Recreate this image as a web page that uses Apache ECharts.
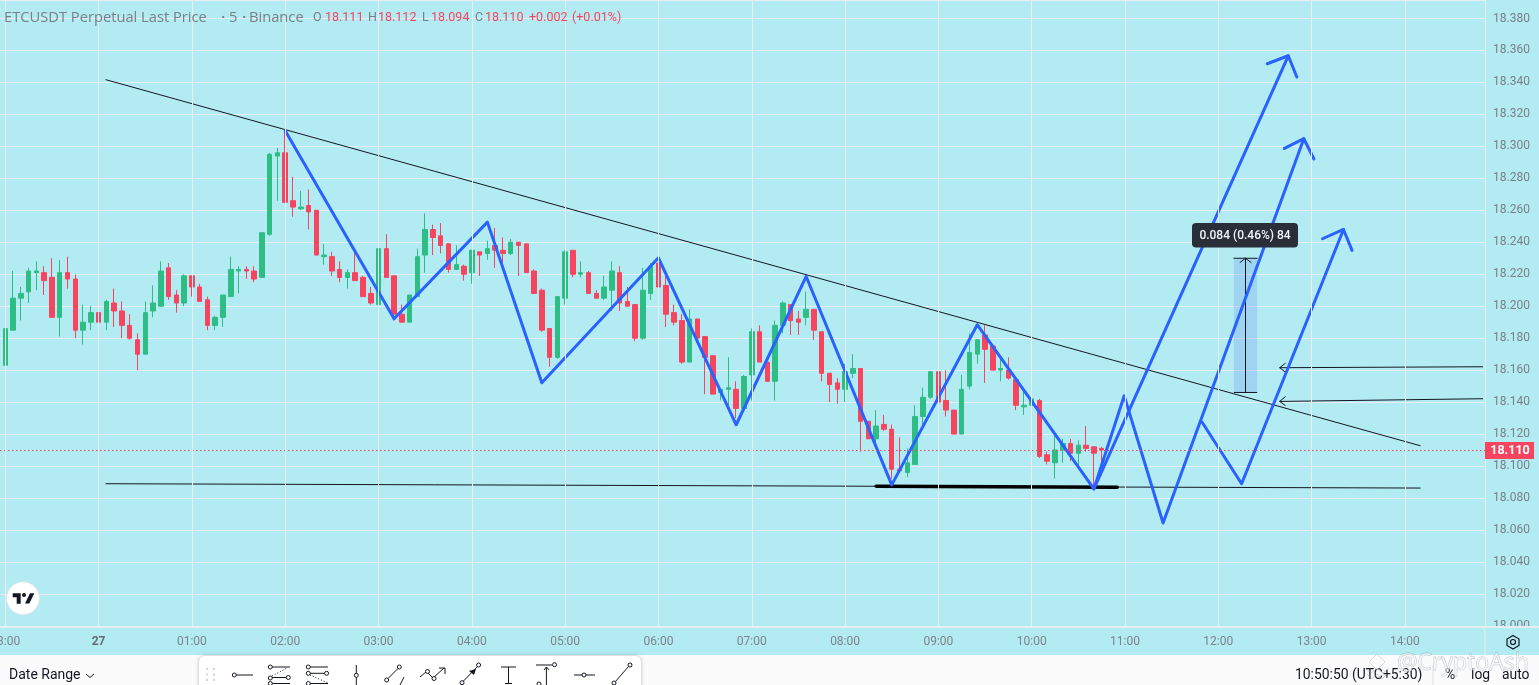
<!DOCTYPE html>
<html><head><meta charset="utf-8">
<style>html,body{margin:0;padding:0;background:#b2ebf2;overflow:hidden}#c{width:1539px;height:685px}</style>
<script src="https://cdn.jsdelivr.net/npm/echarts@6/dist/echarts.min.js"></script>
</head><body><div id="c"></div>
<script>
const timeLabels=['23:00','27','01:00','02:00','03:00','04:00','05:00','06:00','07:00','08:00','09:00','10:00','11:00','12:00','13:00','14:00'];
const lastPrice=18.110;
const opens=[18.163,18.185,18.205,18.209,18.221,18.221,18.218,18.193,18.221,18.217,
18.185,18.190,18.196,18.190,18.202,18.197,18.188,18.179,18.170,18.197,
18.200,18.224,18.207,18.202,18.219,18.212,18.204,18.188,18.193,18.206,
18.222,18.223,18.222,18.218,18.245,18.294,18.296,18.266,18.261,18.263,
18.260,18.231,18.231,18.223,18.218,18.221,18.218,18.208,18.201,18.236,
18.219,18.195,18.190,18.206,18.232,18.248,18.244,18.239,18.223,18.225,
18.221,18.234,18.233,18.238,18.235,18.233,18.240,18.239,18.222,18.210,
18.186,18.168,18.205,18.235,18.220,18.221,18.208,18.205,18.210,18.221,
18.203,18.201,18.180,18.208,18.227,18.213,18.196,18.191,18.165,18.192,
18.181,18.169,18.146,18.148,18.148,18.136,18.157,18.184,18.165,18.153,
18.188,18.201,18.192,18.193,18.198,18.184,18.158,18.152,18.148,18.158,
18.161,18.128,18.117,18.126,18.123,18.098,18.096,18.101,18.131,18.143,
18.159,18.141,18.135,18.120,18.150,18.170,18.182,18.175,18.160,18.160,
18.154,18.137,18.138,18.141,18.107,18.102,18.110,18.114,18.108,18.113,
18.112,18.111];
const closes=[18.186,18.205,18.208,18.222,18.222,18.216,18.193,18.221,18.217,18.185,
18.190,18.196,18.190,18.203,18.197,18.188,18.180,18.170,18.196,18.202,
18.222,18.206,18.202,18.219,18.212,18.203,18.188,18.193,18.207,18.223,
18.223,18.222,18.217,18.246,18.295,18.296,18.265,18.262,18.262,18.259,
18.232,18.232,18.222,18.218,18.221,18.216,18.206,18.202,18.236,18.218,
18.195,18.190,18.207,18.231,18.248,18.243,18.238,18.223,18.226,18.220,
18.235,18.232,18.236,18.235,18.233,18.240,18.238,18.221,18.208,18.185,
18.168,18.206,18.234,18.220,18.221,18.208,18.205,18.212,18.222,18.202,
18.200,18.180,18.210,18.225,18.212,18.195,18.190,18.165,18.192,18.180,
18.168,18.145,18.148,18.149,18.136,18.156,18.184,18.165,18.153,18.188,
18.202,18.191,18.190,18.198,18.185,18.158,18.151,18.148,18.159,18.161,
18.128,18.117,18.125,18.123,18.098,18.097,18.102,18.131,18.143,18.159,
18.140,18.135,18.120,18.148,18.171,18.179,18.173,18.160,18.161,18.155,
18.138,18.138,18.142,18.106,18.103,18.110,18.114,18.108,18.113,18.111,
18.108,18.110];
const highs=[18.187,18.222,18.212,18.224,18.228,18.225,18.230,18.229,18.231,18.220,
18.201,18.200,18.201,18.204,18.211,18.203,18.195,18.183,18.203,18.213,
18.228,18.227,18.210,18.220,18.219,18.214,18.206,18.194,18.207,18.231,
18.225,18.225,18.225,18.246,18.296,18.299,18.309,18.281,18.272,18.273,
18.260,18.239,18.234,18.228,18.223,18.234,18.219,18.212,18.236,18.245,
18.219,18.201,18.207,18.236,18.258,18.251,18.252,18.239,18.238,18.226,
18.235,18.234,18.241,18.249,18.243,18.242,18.240,18.239,18.223,18.211,
18.186,18.206,18.235,18.235,18.228,18.222,18.210,18.219,18.228,18.225,
18.212,18.201,18.224,18.227,18.229,18.219,18.201,18.195,18.198,18.192,
18.181,18.169,18.148,18.168,18.153,18.157,18.186,18.188,18.165,18.191,
18.203,18.201,18.197,18.209,18.198,18.184,18.158,18.155,18.164,18.170,
18.161,18.128,18.135,18.132,18.126,18.118,18.111,18.138,18.149,18.159,
18.165,18.160,18.135,18.157,18.183,18.179,18.188,18.175,18.167,18.168,
18.156,18.148,18.142,18.142,18.109,18.121,18.117,18.117,18.116,18.125,
18.112,18.112];
const lows=[18.163,18.185,18.191,18.202,18.210,18.207,18.193,18.181,18.211,18.180,
18.176,18.185,18.177,18.185,18.187,18.180,18.179,18.160,18.170,18.193,
18.200,18.204,18.196,18.200,18.206,18.203,18.185,18.185,18.187,18.206,
18.208,18.217,18.215,18.218,18.244,18.266,18.265,18.256,18.260,18.248,
18.232,18.226,18.219,18.215,18.211,18.216,18.206,18.201,18.201,18.218,
18.191,18.190,18.190,18.206,18.221,18.232,18.233,18.221,18.223,18.216,
18.214,18.219,18.229,18.224,18.227,18.232,18.219,18.221,18.208,18.184,
18.162,18.167,18.201,18.218,18.218,18.208,18.205,18.204,18.197,18.197,
18.200,18.178,18.179,18.204,18.210,18.187,18.188,18.164,18.165,18.180,
18.145,18.145,18.141,18.137,18.130,18.136,18.141,18.165,18.153,18.141,
18.183,18.182,18.182,18.188,18.179,18.153,18.140,18.139,18.140,18.155,
18.109,18.117,18.112,18.122,18.092,18.096,18.093,18.101,18.126,18.142,
18.134,18.131,18.120,18.120,18.148,18.164,18.152,18.160,18.153,18.154,
18.135,18.132,18.124,18.105,18.101,18.092,18.102,18.103,18.100,18.109,
18.087,18.094];
// drawings in chart coordinates: [bar index, price]
const zigzag=[[36,18.3098],[50,18.1921],[62,18.2526],[69,18.1521],[84,18.2303],[94,18.1258],[103,18.2186],[114,18.0882],[125,18.1884],[140,18.0857],[143.9,18.1439],[148.9,18.0643],[167,18.3048]];
const directUp=[[140,18.0857],[165,18.3567]];
const branch=[[153.9,18.1275],[159,18.0889],[172.1,18.2480]];
const head1=[[162.3,18.3517],[165,18.3567],[166.1,18.3434]];
const head2=[[164.5,18.2987],[167,18.3048],[168.3,18.2921]];
const head3=[[169.4,18.2422],[172.1,18.2480],[173.2,18.2349]];
const trendTop=[[12.95,18.3417],[181.96,18.1127]];
const trendBase=[[12.95,18.0889],[181.96,18.0862]];
const supportThick=[[112,18.0874],[143,18.0867]];
const arrowA=[[190,18.1621],[163.9,18.1615]];
const arrowAHead=[[164.6,18.1642],[163.9,18.1615],[164.6,18.1588]];
const arrowB=[[190,18.1421],[163.9,18.1404]];
const arrowBHead=[[164.6,18.1433],[163.9,18.1404],[164.6,18.1379]];
const measureTop=[[158,18.230],[161,18.230]];
const measureBottom=[[158,18.146],[161,18.146]];
const measureStem=[[159.5,18.146],[159.5,18.230]];
const measureHead=[[158.8,18.2274],[159.5,18.230],[160.2,18.2274]];

const RED='#f7455f',GREEN='#2ebd85',BLUE='#2962ff',INK='#131722',GRID='#e6eef1',BG='#b2ebf2',AX='#7b7f89';
const bars=opens.map((o,i)=>[i,o,closes[i],lows[i],highs[i]]);
const poly=(data,color,width,z)=>({type:'line',data,symbol:'none',silent:true,z:z||3,lineStyle:{color,width,cap:'round',join:'round'},animation:false});

const Z=100;
const txt=(x,y,text,size,fill,extra)=>({type:'text',z:Z,x,y,style:Object.assign({text,fill,fontSize:size,fontFamily:'Roboto',verticalAlign:'middle'},extra||{})});
const ln=(x1,y1,x2,y2,w,c,d)=>({type:'line',z:Z,shape:{x1,y1,x2,y2},style:{stroke:c||INK,lineWidth:w||1,lineDash:d||null}});
const dot=(cx,cy,r)=>({type:'circle',z:Z,shape:{cx,cy,r:r||2},style:{fill:'#fff',stroke:INK,lineWidth:1}});
const rect=(x,y,width,height,fill,z,r)=>({type:'rect',z:z==null?Z:z,shape:{x,y,width,height,r:r||0},style:{fill}});
const pl=(points,w,c,d)=>({type:'polyline',z:Z,shape:{points},style:{stroke:c||INK,lineWidth:w||1,fill:null,lineDash:d||null}});

const OS={fontFamily:'Open Sans'};
const header=[
 txt(4,18,'ETCUSDT Perpetual Last Price',14.7,AX,OS),
 txt(221,18,'·',14.7,AX,{fontWeight:'bold'}),txt(229,18,'5',14.7,AX,OS),txt(242,18,'·',14.7,AX,{fontWeight:'bold'}),txt(249,18,'Binance',14.7,AX,OS),
 txt(313,18,'O',12.5,AX),txt(325,18,'18.111',12.5,RED),
 txt(368,18,'H',12.5,AX),txt(378,18,'18.112',12.5,RED),
 txt(422,18,'L',12.5,AX),txt(431,18,'18.094',12.5,RED),
 txt(475,18,'C',12.5,AX),txt(485,18,'18.110',12.5,RED),
 txt(529,18,'+0.002',12.5,RED),txt(572,18,'(+0.01%)',12.5,RED)
];
const tvLogo=[
 {type:'circle',z:Z,shape:{cx:23,cy:598.3,r:16.5},style:{fill:'#fff',stroke:'#dde3ee',lineWidth:1}},
 {type:'polygon',z:Z+1,shape:{points:[[12.7,593.3],[20.7,593.3],[20.7,603.7],[16.7,603.7],[16.7,597.3],[12.7,597.3]]},style:{fill:INK}},
 {type:'circle',z:Z+1,shape:{cx:24,cy:595,r:2},style:{fill:INK}},
 {type:'polygon',z:Z+1,shape:{points:[[30,593.3],[34.3,593.3],[29.3,603.5],[25,603.5]]},style:{fill:INK}}
];
const tooltipBox=[
 rect(1192,223,106,24.6,'#2a2e39',Z+2,4),
 {type:'text',z:Z+3,x:1245,y:235.5,style:{text:'0.084 (0.46%) 84',fill:'#f0f3fa',fontSize:12,fontWeight:500,fontFamily:'Roboto',align:'center',verticalAlign:'middle'}}
];
const priceTag=[
 rect(1485,442,49,17,RED,Z+2),
 {type:'text',z:Z+3,x:1510,y:451,style:{text:lastPrice.toFixed(3),fill:'#fff',fontSize:12.5,fontWeight:'bold',fontFamily:'Roboto',align:'center',verticalAlign:'middle'}}
];
const chrome=[
 rect(0,627,1539,28,BG,50),
 ln(0,627,1539,627,2,GRID),
 ln(1485,627,1485,655,1,GRID),
 rect(0,655,1539,30,'#fbfbfb',80),
 {type:'rect',z:81,shape:{x:199,y:656,width:442,height:40,r:6},style:{fill:'#fff',shadowBlur:4,shadowColor:'rgba(0,0,0,.25)'}},
 {type:'polygon',z:Z,shape:{points:[[1513,635.5],[1519,639],[1519,645.5],[1513,649],[1507,645.5],[1507,639]]},style:{fill:null,stroke:INK,lineWidth:1.2}},
 {type:'circle',z:Z,shape:{cx:1513,cy:642,r:2.5},style:{fill:null,stroke:INK,lineWidth:1.2}},
 txt(9,675.5,'Date Range',14,INK),
 pl([[86,674],[90,677.5],[94,674]],1,INK),
 txt(1295,675.5,'10:50:50 (UTC+5:30)',13.9,INK),
 ln(1433,665,1433,685,1,'#e0e3eb'),
 txt(1445,675.5,'%',13.9,INK),txt(1471,675.5,'log',13.9,INK),txt(1502,675.5,'auto',13.9,INK)
];
const tools=[];
[207,214].forEach(x=>[669,674.5,680].forEach(y=>tools.push(rect(x-1,y-1,2,2,'#d1d4dc'))));
tools.push(ln(236,675,253,675),dot(234.3,675));
tools.push(ln(272,667,290,667),dot(270.3,667),ln(272,677.5,286,677.5),dot(270.3,678),dot(288.3,677.5),ln(272,683.5,290,683.5),dot(270.3,683.5),ln(272,676,287,668,1,INK,[1,2]));
tools.push(ln(310,667,328,667),dot(308.3,667),ln(310,673.3,325,673.3),dot(308.3,673.3),dot(326.6,673.3),ln(310,683.5,328,683.5),dot(308.3,683.5),ln(310,675,328,683,1,INK,[1,2]));
tools.push(ln(356.3,665,356.3,685),dot(356.3,675.3));
tools.push(ln(388,678.5,398,668.5),dot(386.7,680),dot(399.3,667),ln(400,685,404,677));
tools.push(pl([[420,677],[426.5,671.5],[433,678],[444,668]]),dot(427.5,671.5),dot(434,678.5),pl([[439,668],[445,668],[445,674]]));
tools.push(ln(463.5,681,477.5,666.5),dot(462,682.7),dot(478.6,665),{type:'polygon',z:Z,shape:{points:[[476,669],[474,675],[469,671]]},style:{fill:INK}});
tools.push(ln(501,667,516,667),ln(508.5,667,508.5,683),ln(505,683.5,512,683.5));
tools.push(ln(536,665,552,665),dot(554.5,664.7),ln(546.4,667,546.4,685),pl([[544,670],[546.4,667],[549,670]]),dot(539,684));
tools.push(ln(574,675,595,675),dot(584,675));
tools.push(ln(615.5,681.5,628.5,666.5),dot(614,683),dot(630,665));
const watermark=[
 {type:'polygon',z:Z+5,shape:{points:[[1377,654],[1385,662],[1377,670],[1369,662]]},style:{fill:'rgba(255,255,255,.6)',stroke:'rgba(140,150,160,.3)',lineWidth:1}},
 pl([[1365,668],[1371,673],[1377,668],[1383,673],[1389,668]],1,'rgba(140,150,160,.45)'),
 pl([[1367,674],[1372,679],[1377,674],[1382,679],[1387,674]],1,'rgba(140,150,160,.45)'),
 {type:'text',z:Z+5,x:1397,y:663,style:{text:'@CryptoAsh',fontSize:23,fontFamily:'Open Sans',verticalAlign:'middle',fill:'rgba(255,255,255,.6)',stroke:'rgba(120,130,140,.45)',lineWidth:.8}}
];

const chart=echarts.init(document.getElementById('c'),null,{renderer:'canvas'});
chart.setOption({
 animation:false,
 backgroundColor:BG,
 grid:{left:-88,right:54,top:0,height:625.8,outerBoundsMode:'none',containLabel:false},
 xAxis:{type:'value',min:-12,max:190.3,interval:12,z:60,
  axisLine:{show:false},axisTick:{show:false},
  splitLine:{show:true,lineStyle:{color:GRID,width:1}},
  axisLabel:{margin:10,hideOverlap:false,showMinLabel:true,showMaxLabel:true,
   formatter:v=>{const s=timeLabels[v/12];if(s==null)return'';return s==='27'?'{b|27}':'{n|'+s+'}';},
   rich:{n:{fontFamily:'Roboto',fontSize:12,color:'#7f838d'},b:{fontFamily:'Roboto',fontSize:12,fontWeight:'bold',color:'#666a75'}}}},
 yAxis:{type:'value',position:'right',min:18,max:18.3916,interval:0.02,z:1,scale:true,
  axisLine:{show:false},axisTick:{show:false},
  splitLine:{show:true,lineStyle:{color:GRID,width:1}},
  axisLabel:{margin:8,fontFamily:'Roboto',fontSize:12,color:AX,formatter:v=>v>18.385?'':v.toFixed(3)}},
 graphic:{elements:[...header,...tvLogo,...tooltipBox,...priceTag,...chrome,...tools,...watermark]},
 series:[
  {type:'candlestick',data:bars,encode:{x:0,y:[1,2,3,4]},barWidth:5,z:2,silent:true,
   itemStyle:{color:GREEN,color0:RED,borderColor:GREEN,borderColor0:RED,borderWidth:1},
   markLine:{silent:true,symbol:'none',animation:false,lineStyle:{color:RED,type:[1.5,2.5],width:1.2,opacity:1},
    label:{show:false},data:[{yAxis:lastPrice}]}},
  {type:'line',data:measureBottom,symbol:'none',silent:true,z:2,lineStyle:{color:INK,width:1},
   markArea:{silent:true,itemStyle:{color:'rgba(100,140,242,0.25)'},data:[[{coord:[158,18.230]},{coord:[161,18.146]}]]}},
  poly(measureTop,INK,1),poly(measureStem,INK,1),poly(measureHead,INK,1),
  poly(trendTop,INK,1),poly(trendBase,INK,1),poly(supportThick,'#000',3.5),
  poly(arrowA,INK,1),poly(arrowAHead,INK,1),poly(arrowB,INK,1),poly(arrowBHead,INK,1),
  poly(zigzag,BLUE,3,4),poly(directUp,BLUE,3,4),poly(branch,BLUE,3,4),poly(head1,BLUE,3,4),poly(head2,BLUE,3,4),poly(head3,BLUE,3,4)
 ]
});
</script></body></html>
